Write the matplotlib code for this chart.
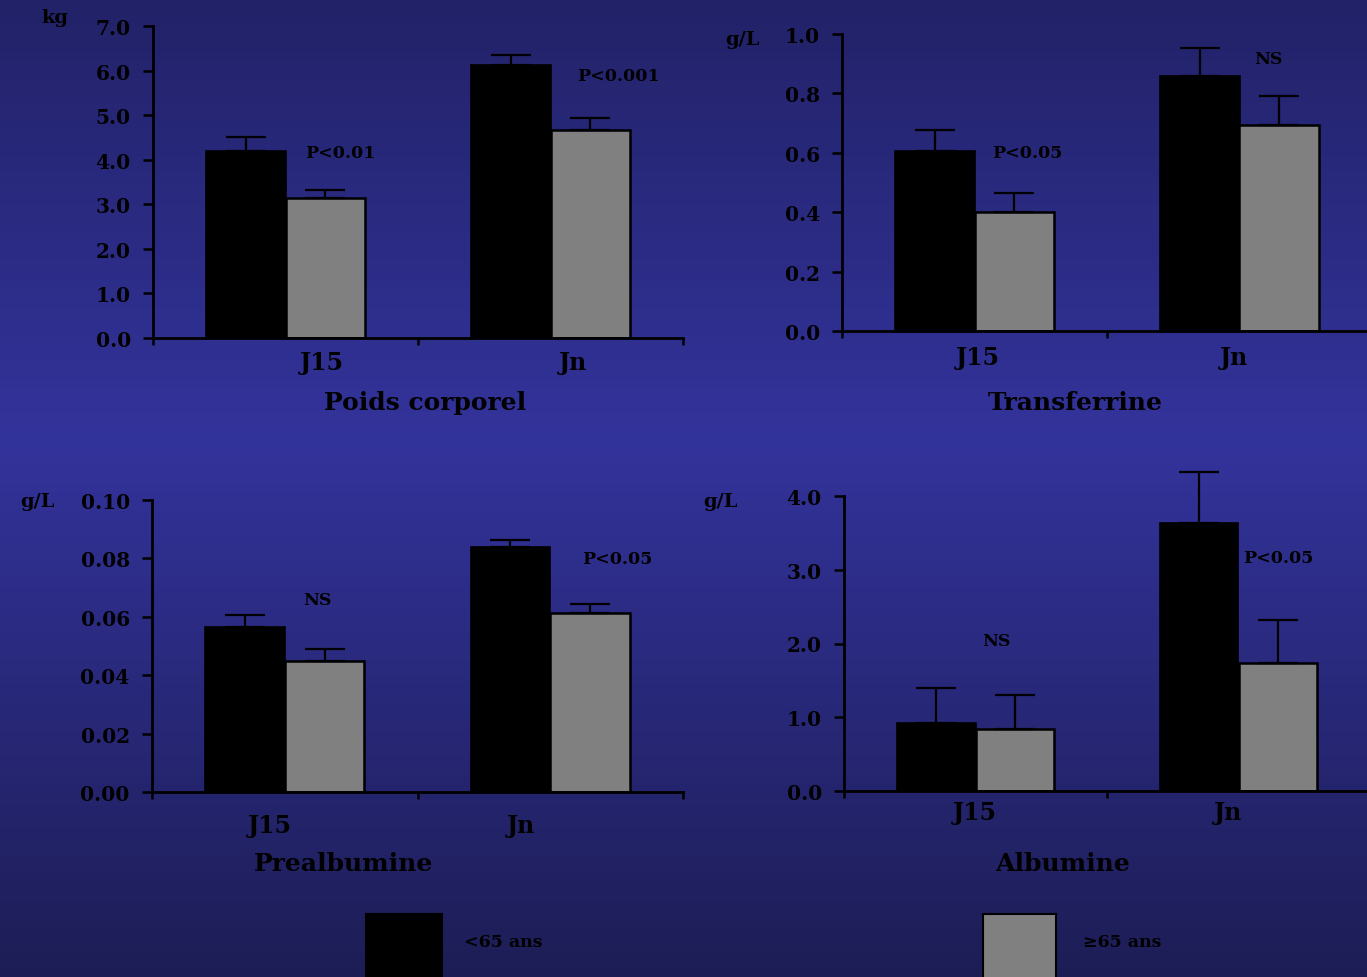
import numpy as np
import matplotlib
matplotlib.use("Agg")
import matplotlib.pyplot as plt
from matplotlib.colors import LinearSegmentedColormap
from matplotlib.patches import Rectangle
from matplotlib.transforms import blended_transform_factory

W, H = 1367, 978
INK, GREY = "#000000", "#808080"

plt.rcParams.update({
    "font.family": "DejaVu Serif", "font.weight": "bold",
    "axes.facecolor": "none", "axes.edgecolor": INK,
    "xtick.color": INK, "ytick.color": INK, "text.color": INK,
})

# ---- data ----
groups = ["J15", "Jn"]
series = ["<65 ans", "≥65 ans"]

poids_young, poids_young_err = [4.20, 6.13], [0.32, 0.22]
poids_old,   poids_old_err   = [3.14, 4.67], [0.19, 0.27]
transf_young, transf_young_err = [0.605, 0.857], [0.071, 0.096]
transf_old,   transf_old_err   = [0.400, 0.692], [0.065, 0.098]
prealb_young, prealb_young_err = [0.0566, 0.0838], [0.0039, 0.0024]
prealb_old,   prealb_old_err   = [0.0448, 0.0612], [0.0043, 0.0033]
alb_young, alb_young_err = [0.92, 3.63], [0.48, 0.70]
alb_old,   alb_old_err   = [0.84, 1.73], [0.46, 0.59]

panels = [
    dict(title="Poids corporel", unit="kg", ymax=7.0, step=1.0, fmt="{:.1f}",
         young=poids_young, yerr=poids_young_err, old=poids_old, oerr=poids_old_err,
         notes=[("P<0.01", 0.706, 4.17), ("P<0.001", 1.755, 5.90)]),
    dict(title="Transferrine", unit="g/L", ymax=1.0, step=0.2, fmt="{:.1f}",
         young=transf_young, yerr=transf_young_err, old=transf_old, oerr=transf_old_err,
         notes=[("P<0.05", 0.70, 0.602), ("NS", 1.61, 0.919)]),
    dict(title="Prealbumine", unit="g/L", ymax=0.10, step=0.02, fmt="{:.2f}",
         young=prealb_young, yerr=prealb_young_err, old=prealb_old, oerr=prealb_old_err,
         notes=[("NS", 0.623, 0.066), ("P<0.05", 1.752, 0.080)]),
    dict(title="Albumine", unit="g/L", ymax=4.0, step=1.0, fmt="{:.1f}",
         young=alb_young, yerr=alb_young_err, old=alb_old, oerr=alb_old_err,
         notes=[("NS", 0.58, 2.04), ("P<0.05", 1.65, 3.16)]),
]

# pixel layout: axes box (left, right, top, bottom), label x (data), label y, title, unit
layout = [
    dict(box=(153, 683, 27, 339), lab_x=[0.638, 1.585], lab_y=363, title=(425, 403), unit=(55, 18)),
    dict(box=(842, 1372, 35, 332), lab_x=[0.513, 1.479], lab_y=358, title=(1075, 403), unit=(742, 40)),
    dict(box=(152, 683, 501, 793), lab_x=[0.444, 1.390], lab_y=826, title=(344, 864), unit=(37, 502)),
    dict(box=(844, 1370, 497, 792), lab_x=[0.499, 1.460], lab_y=813, title=(1063, 864), unit=(720, 502)),
]

fig = plt.figure(figsize=(W / 100, H / 100), dpi=100)

# background gradient
bg = fig.add_axes([0, 0, 1, 1], zorder=-10)
cmap = LinearSegmentedColormap.from_list(
    "bg", [(0.0, "#222268"), (0.45, "#33339c"), (1.0, "#1d1d56")])
bg.imshow(np.linspace(0, 1, 256)[:, None], aspect="auto", cmap=cmap,
          extent=[0, 1, 0, 1])
bg.axis("off")


def fx(px):
    return px / W


def fy(py):
    return 1 - py / H


x = np.array([0.5, 1.5])
bw = 0.30
for p, lo in zip(panels, layout):
    l, r, t, b = lo["box"]
    ax = fig.add_axes([fx(l), fy(b), (r - l) / W, (b - t) / H])
    ax.bar(x - bw / 2, p["young"], bw, color=INK, edgecolor=INK, lw=1.2, zorder=2)
    ax.bar(x + bw / 2, p["old"], bw, color=GREY, edgecolor=INK, lw=1.8, zorder=2)
    for xs, ys, es in ((x - bw / 2, p["young"], p["yerr"]), (x + bw / 2, p["old"], p["oerr"])):
        eb = ax.errorbar(xs, ys, yerr=[np.zeros(2), es], fmt="none",
                         ecolor=INK, elinewidth=1.6, capsize=14.5, capthick=1.6, zorder=3)
        for art in eb.lines[1] + eb.lines[2]:
            art.set_clip_on(False)

    ax.set_xlim(0, 2)
    ax.set_ylim(0, p["ymax"])
    ticks = np.arange(0, p["ymax"] + p["step"] / 2, p["step"])
    ax.set_yticks(ticks)
    ax.set_yticklabels([p["fmt"].format(v) for v in ticks])
    ax.set_xticks([0, 1, 2])
    ax.set_xticklabels([])
    ax.tick_params(axis="y", length=7, width=1.8, pad=9, labelsize=14.5)
    ax.tick_params(axis="x", length=5, width=1.8)
    for s in ("top", "right"):
        ax.spines[s].set_visible(False)
    for s in ("left", "bottom"):
        ax.spines[s].set_linewidth(2.0)

    tr = blended_transform_factory(ax.transData, fig.transFigure)
    for g, gx in zip(groups, lo["lab_x"]):
        ax.text(gx, fy(lo["lab_y"]), g, transform=tr, ha="center", va="center",
                fontsize=17)
    for txt, nx, ny in p["notes"]:
        ax.text(nx, ny, txt, ha="center", va="center", fontsize=12.5)

    fig.text(fx(lo["title"][0]), fy(lo["title"][1]), p["title"],
             ha="center", va="center", fontsize=18)
    fig.text(fx(lo["unit"][0]), fy(lo["unit"][1]), p["unit"],
             ha="center", va="center", fontsize=14)

# legend boxes at the bottom
leg = [((366, 915, 76), INK, series[0], 464), ((983, 915, 73), GREY, series[1], 1083)]
for (px, py, pw), col, lab, tx in leg:
    fig.patches.append(Rectangle((fx(px), -0.01), pw / W, (H - py) / H + 0.01,
                                 transform=fig.transFigure, facecolor=col,
                                 edgecolor=INK, lw=1.5))
    fig.text(fx(tx), fy(943), lab, ha="left", va="center", fontsize=12.5)

fig.savefig("out.png", dpi=100)
